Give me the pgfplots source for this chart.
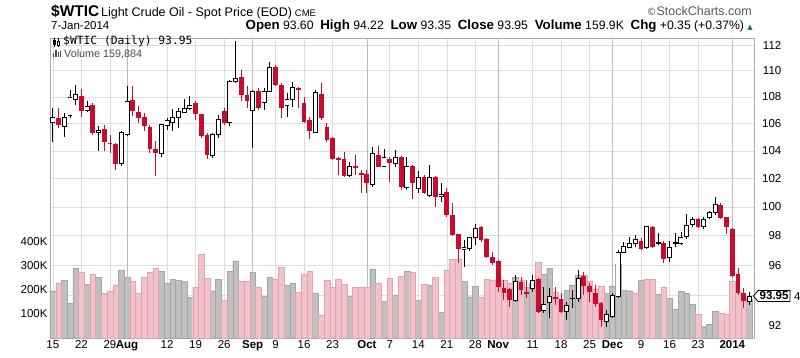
\documentclass[border=0pt]{standalone}
\usepackage{fontspec}
\setmainfont{Liberation Sans}
\newfontfamily\monofont{DejaVu Sans Mono}
\newfontfamily\dejavu{DejaVu Sans}
\usepackage{pgfplots}
\usepackage{pgfplotstable}
\pgfplotsset{compat=1.18}
\usetikzlibrary{shapes.symbols}
\definecolor{cred}{RGB}{200,12,48}
\definecolor{volpink}{RGB}{241,194,201}
\definecolor{volpinkd}{RGB}{226,164,176}
\definecolor{volgray}{RGB}{192,192,192}
\definecolor{volgrayd}{RGB}{166,166,166}
\definecolor{gridc}{RGB}{222,222,222}
\definecolor{gridm}{RGB}{188,188,188}
\definecolor{framec}{RGB}{170,170,170}
\definecolor{upgreen}{RGB}{40,110,60}

% white (close > open) candles: index, open, high, low, close
\pgfplotstableread{
i o h l c
0 106.13 107.17 104.65 106.50
2 105.76 106.80 105.02 106.50
3 106.65 108.53 106.43 107.93
4 107.85 108.92 107.40 108.16
6 107.02 107.70 106.87 107.32
8 105.32 105.84 104.00 105.47
12 103.12 105.47 102.91 105.32
13 105.17 108.84 105.10 107.70
19 103.85 105.98 103.56 105.91
20 105.84 106.43 105.54 106.21
21 106.13 107.10 105.47 106.43
22 106.50 107.17 105.69 106.95
23 106.87 107.85 106.80 107.17
24 107.17 108.08 107.02 107.40
28 103.70 105.32 103.49 105.24
29 105.17 106.65 104.95 106.35
31 106.13 109.30 105.84 109.15
32 109.22 112.32 109.07 109.45
35 107.02 108.53 104.22 108.46
37 107.63 108.69 107.02 108.46
38 108.46 110.68 108.40 110.29
41 107.40 108.31 106.50 107.78
42 107.85 109.15 107.25 108.76
46 105.39 108.53 105.32 108.31
52 102.26 103.19 102.12 102.84
56 101.55 104.29 101.40 103.78
58 102.91 104.14 102.84 103.56
60 103.12 104.07 102.84 103.56
62 101.40 103.56 101.19 102.91
64 101.33 102.55 100.98 102.12
66 100.77 102.98 100.70 102.12
68 100.70 101.69 100.35 100.91
72 97.03 97.71 95.88 97.23
73 97.10 97.92 96.96 97.85
74 97.85 98.81 97.37 98.47
81 93.69 95.35 93.56 94.88
84 94.48 95.35 94.22 94.95
86 92.98 94.55 92.85 93.37
87 93.50 94.48 92.52 93.89
90 92.91 93.56 92.39 93.30
91 93.76 94.35 93.17 93.82
92 93.76 95.68 93.56 95.14
97 92.26 93.04 91.94 92.72
98 92.59 94.15 92.52 93.96
99 93.89 97.03 93.82 96.89
100 96.89 97.57 96.83 97.30
101 97.23 97.92 97.17 97.50
102 97.44 98.06 97.23 97.78
104 97.17 98.68 97.10 98.61
106 97.50 98.19 97.37 97.57
108 96.49 97.64 96.22 97.23
109 97.50 98.19 97.23 97.57
110 97.50 98.26 97.37 97.85
111 97.92 99.51 97.78 98.68
112 98.75 99.30 98.61 99.16
114 98.61 99.30 98.47 99.16
115 99.23 99.72 99.16 99.58
116 99.58 100.70 99.44 100.14
122 93.60 94.22 93.35 93.95
}\upc

% red (close < open) candles
\pgfplotstableread{
i o h l c
1 106.43 107.17 105.69 105.91
5 108.08 108.61 106.50 106.95
7 107.40 107.55 105.17 105.32
9 105.61 105.91 104.00 104.65
10 104.58 105.17 103.85 104.51
11 104.51 104.55 102.62 103.05
14 107.78 108.84 106.58 106.95
15 106.87 107.32 106.06 106.43
16 106.50 106.80 105.47 105.84
17 105.76 105.91 103.85 104.14
18 104.14 104.73 102.19 103.85
25 107.55 107.70 106.28 106.72
26 106.72 106.75 104.95 105.10
27 105.17 105.32 103.41 103.70
30 106.95 107.17 105.91 106.06
33 109.53 110.06 107.70 108.16
34 108.16 108.84 107.17 107.70
36 108.46 108.69 107.02 107.17
39 110.29 110.45 108.84 108.92
40 108.92 109.07 106.43 107.17
43 108.69 108.76 107.17 108.53
44 107.55 108.00 106.06 106.13
45 106.28 106.50 104.88 105.47
47 108.23 109.07 106.28 106.43
48 105.76 106.06 104.65 104.80
49 104.95 105.02 103.34 103.41
50 103.49 103.56 102.26 103.34
51 103.41 103.92 102.12 102.19
53 102.91 103.70 102.26 102.76
54 102.40 102.62 100.98 102.26
55 102.33 102.62 100.98 101.69
57 103.70 104.36 102.80 102.84
59 103.41 103.56 101.76 103.12
61 103.56 103.60 101.19 101.40
63 102.91 102.98 100.56 101.69
65 102.12 102.26 100.91 100.98
67 102.12 102.15 100.00 100.70
69 101.05 101.33 99.30 99.44
70 99.44 100.28 97.99 98.06
71 98.12 98.15 96.15 97.10
75 98.61 98.64 97.57 97.71
76 97.78 97.85 96.49 96.56
77 96.56 96.89 96.02 96.15
78 96.28 96.35 94.22 94.55
79 94.48 95.01 93.69 94.15
80 94.42 94.48 93.24 93.69
82 94.88 95.21 94.02 94.35
83 94.22 95.01 93.82 94.09
85 95.08 95.14 92.85 92.91
88 93.89 94.55 93.37 93.76
89 93.76 94.15 92.85 92.91
93 95.28 95.55 94.02 94.62
94 94.62 94.81 93.56 94.22
95 94.15 94.68 93.24 93.43
96 93.50 93.56 91.94 92.39
103 97.64 97.85 97.03 97.10
105 98.61 98.68 97.17 97.23
107 97.50 97.64 96.15 96.42
113 99.16 99.23 98.54 98.61
117 100.14 100.28 99.16 99.23
118 99.30 99.32 98.12 98.61
119 98.47 98.54 95.21 95.28
120 95.41 95.81 94.02 94.15
121 94.15 94.48 93.17 93.60
}\dnc

% volume (thousands), gray bars
\pgfplotstableread{
i v
0 197
2 239
3 145
4 290
6 225
8 253
12 282
13 254
19 278
20 229
21 244
22 240
23 235
24 168
28 197
29 244
31 278
32 321
35 274
37 174
38 254
41 221
42 230
46 188
52 173
56 287
58 154
60 178
62 278
64 158
66 221
68 107
72 235
73 172
74 217
81 255
83 213
84 230
86 266
87 290
90 200
91 221
92 262
97 185
98 217
99 306
100 200
101 197
103 242
106 183
108 165
109 119
110 193
111 186
112 142
114 47
115 58
116 110
122 160
}\volup

% volume (thousands), pink bars
\pgfplotstableread{
i v
1 230
5 274
7 264
9 188
10 197
11 219
14 235
15 188
16 254
17 274
18 292
25 210
26 349
27 249
30 158
33 235
34 235
36 210
39 244
40 297
43 192
44 265
45 278
47 96
48 241
49 211
50 245
51 225
53 211
54 211
55 211
57 228
59 249
61 258
63 274
65 225
67 254
69 283
70 328
71 328
75 170
76 245
77 242
78 214
79 242
80 230
82 242
85 316
88 190
89 162
93 260
94 235
95 205
96 217
102 186
104 245
105 245
107 213
113 99
117 105
118 100
119 235
120 189
121 172
}\voldn

\begin{document}
\begin{tikzpicture}
\path[use as bounding box] (0,0) rectangle (800pt,357pt);

% ---- grid, frame, date and price labels
\begin{axis}[at={(50pt,19pt)}, anchor=south west, width=704pt, height=300pt,
  scale only axis, xmin=-0.5, xmax=122.8,
  ymode=log, ymin=91.23, ymax=112.56,
  xtick={0,5,10,13,20,25,30,35,39,44,49,55,59,64,69,74,78,84,89,94,98,103,108,113,119},
  xticklabels={15,22,29,\textbf{Aug},12,19,26,\textbf{Sep},9,16,23,\textbf{Oct},7,14,21,28,\textbf{Nov},11,18,25,\textbf{Dec},9,16,23,\textbf{2014}},
  ytick={92,94,96,98,100,102,104,106,108,110,112},
  yticklabels={92,{},96,98,100,102,104,106,108,110,112},
  yticklabel pos=right,
  yminorticks=false,
  xmajorgrids=true, ymajorgrids=true,
  major grid style={draw=gridc, line width=0.6pt},
  tick style={draw=none},
  axis line style={draw=framec, line width=0.6pt},
  xticklabel style={font=\fontsize{11.5}{11.5}\selectfont, yshift=1pt},
  yticklabel style={font=\fontsize{11.5}{11.5}\selectfont, anchor=east, inner sep=0pt, xshift=27.5pt},
]
\addplot[draw=none, mark=none] coordinates {(0,100)};
\end{axis}

% ---- darker month grid lines
\begin{axis}[at={(50pt,19pt)}, anchor=south west, width=704pt, height=300pt,
  scale only axis, xmin=-0.5, xmax=122.8, ymin=0, ymax=1,
  xtick={13,35,55,78,98,119}, xticklabels={}, ytick=\empty,
  xmajorgrids=true, major grid style={draw=gridm, line width=0.7pt},
  tick style={draw=none}, axis line style={draw=none}]
\addplot[draw=none, mark=none] coordinates {(0,0.5)};
\end{axis}

% ---- volume
\begin{axis}[at={(50pt,19pt)}, anchor=south west, width=704pt, height=300pt,
  scale only axis, xmin=-0.5, xmax=122.8, ymin=0, ymax=1250,
  ytick={100,200,300,400}, yticklabels={100K,200K,300K,400K},
  yticklabel pos=left, xtick=\empty,
  axis line style={draw=none}, tick style={draw=none},
  yticklabel style={font=\fontsize{11.5}{11.5}\selectfont, xshift=1pt}]
\addplot[ybar, bar width=5.71pt, bar shift=0pt, fill=volgray, draw=volgrayd, line width=0.4pt] table[x=i, y=v] {\volup};
\addplot[ybar, bar width=5.71pt, bar shift=0pt, fill=volpink, draw=volpinkd, line width=0.4pt] table[x=i, y=v] {\voldn};
\end{axis}

% ---- candles
\begin{axis}[at={(50pt,19pt)}, anchor=south west, width=704pt, height=300pt,
  scale only axis, xmin=-0.5, xmax=122.8,
  ymode=log, ymin=91.23, ymax=112.56, hide axis]
% red wicks and bodies
\addplot[draw=none, mark=none, error bars/.cd, y dir=minus, y explicit, error mark=none,
  error bar style={draw=cred, line width=0.85pt}]
  table[x=i, y=h, y error expr=\thisrow{h}-\thisrow{l}] {\dnc};
\addplot[draw=none, mark=none, error bars/.cd, y dir=minus, y explicit, error mark=none,
  error bar style={draw=cred, line width=4.8pt}]
  table[x=i, y=o, y error expr=\thisrow{o}-\thisrow{c}] {\dnc};
% white candles
\addplot[draw=none, mark=none, error bars/.cd, y dir=minus, y explicit, error mark=none,
  error bar style={draw=black, line width=0.85pt}]
  table[x=i, y=h, y error expr=\thisrow{h}-\thisrow{l}] {\upc};
\addplot[draw=none, mark=none, error bars/.cd, y dir=minus, y explicit, error mark=none,
  error bar style={draw=black, line width=4.9pt}]
  table[x=i, y=c, y error expr=\thisrow{c}-\thisrow{o}] {\upc};
\addplot[draw=none, mark=none, error bars/.cd, y dir=minus, y explicit, error mark=none,
  error bar style={draw=white, line width=3.3pt}]
  table[x=i, y=c, y error expr=\thisrow{c}-\thisrow{o}] {\upc};
\addplot[only marks, mark=-, mark size=2.45pt, mark options={draw=black, line width=0.8pt}]
  table[x=i, y=o] {\upc};
\addplot[only marks, mark=-, mark size=2.45pt, mark options={draw=black, line width=0.8pt}]
  table[x=i, y=c] {\upc};
\end{axis}

% ---- header
\node[anchor=base west, inner sep=0pt] at (51pt,340pt)
  {{\fontsize{15.5}{16}\selectfont\bfseries \$WTIC}\,{\fontsize{12.5}{13}\selectfont Light Crude Oil - Spot Price (EOD)}\ {\fontsize{9.5}{10}\selectfont CME}};
\node[anchor=base west, inner sep=0pt] at (51pt,327.5pt) {\fontsize{11.5}{12}\selectfont 7-Jan-2014};
\node[anchor=base east, inner sep=0pt] at (753pt,327.5pt)
  {\fontsize{12.2}{12}\selectfont {\bfseries\fontsize{13.3}{12}\selectfont Open} 93.60\ \ {\bfseries\fontsize{13.3}{12}\selectfont High} 94.22\ \ {\bfseries\fontsize{13.3}{12}\selectfont Low} 93.35\ \ {\bfseries\fontsize{13.3}{12}\selectfont Close} 93.95\ \ {\bfseries\fontsize{13.3}{12}\selectfont Volume} 159.9K\ \ {\bfseries\fontsize{13.3}{12}\selectfont Chg} +0.35 (+0.37\%) {\dejavu\fontsize{7}{7}\selectfont\color{upgreen}▲}};
\node[anchor=base east, inner sep=0pt, text=black!65] at (752pt,341pt)
  {\fontsize{12.5}{13}\selectfont {\dejavu\fontsize{10}{10}\selectfont ©}StockCharts.com};

% ---- in-plot legend
\draw[line width=0.6pt] (54.5pt,310pt) -- (54.5pt,318.5pt);
\fill[black] (53.3pt,312pt) rectangle (55.7pt,316.5pt);
\draw[line width=0.6pt] (58.5pt,310pt) -- (58.5pt,318.5pt);
\draw[line width=0.6pt, fill=white] (57.3pt,312pt) rectangle (59.7pt,316pt);
\node[anchor=base west, inner sep=0pt] at (63pt,312.5pt) {\monofont\fontsize{11.3}{11.3}\selectfont \$WTIC (Daily) 93.95};
\fill[black!70] (53pt,299.5pt) rectangle (54.4pt,303.5pt);
\fill[black!70] (55.3pt,299.5pt) rectangle (56.7pt,306.5pt);
\fill[black!70] (57.6pt,299.5pt) rectangle (59pt,304.5pt);
\fill[black!70] (59.9pt,299.5pt) rectangle (61.3pt,305.5pt);
\node[anchor=base west, inner sep=0pt, text=black!70] at (64pt,299.5pt) {\fontsize{10.8}{10.8}\selectfont Volume 159,884};

% ---- last price tag
\node[shape=signal, signal to=west, signal pointer angle=100, draw=black, line width=0.8pt, fill=white,
  inner xsep=1.5pt, inner ysep=1.5pt, anchor=west, font=\bfseries\fontsize{11.5}{11.5}\selectfont]
  at (753pt,61pt) {93.95};
\node[anchor=west, inner sep=0pt, font=\fontsize{11.5}{11.5}\selectfont] at (794pt,60.5pt) {4};
\end{tikzpicture}
\end{document}
